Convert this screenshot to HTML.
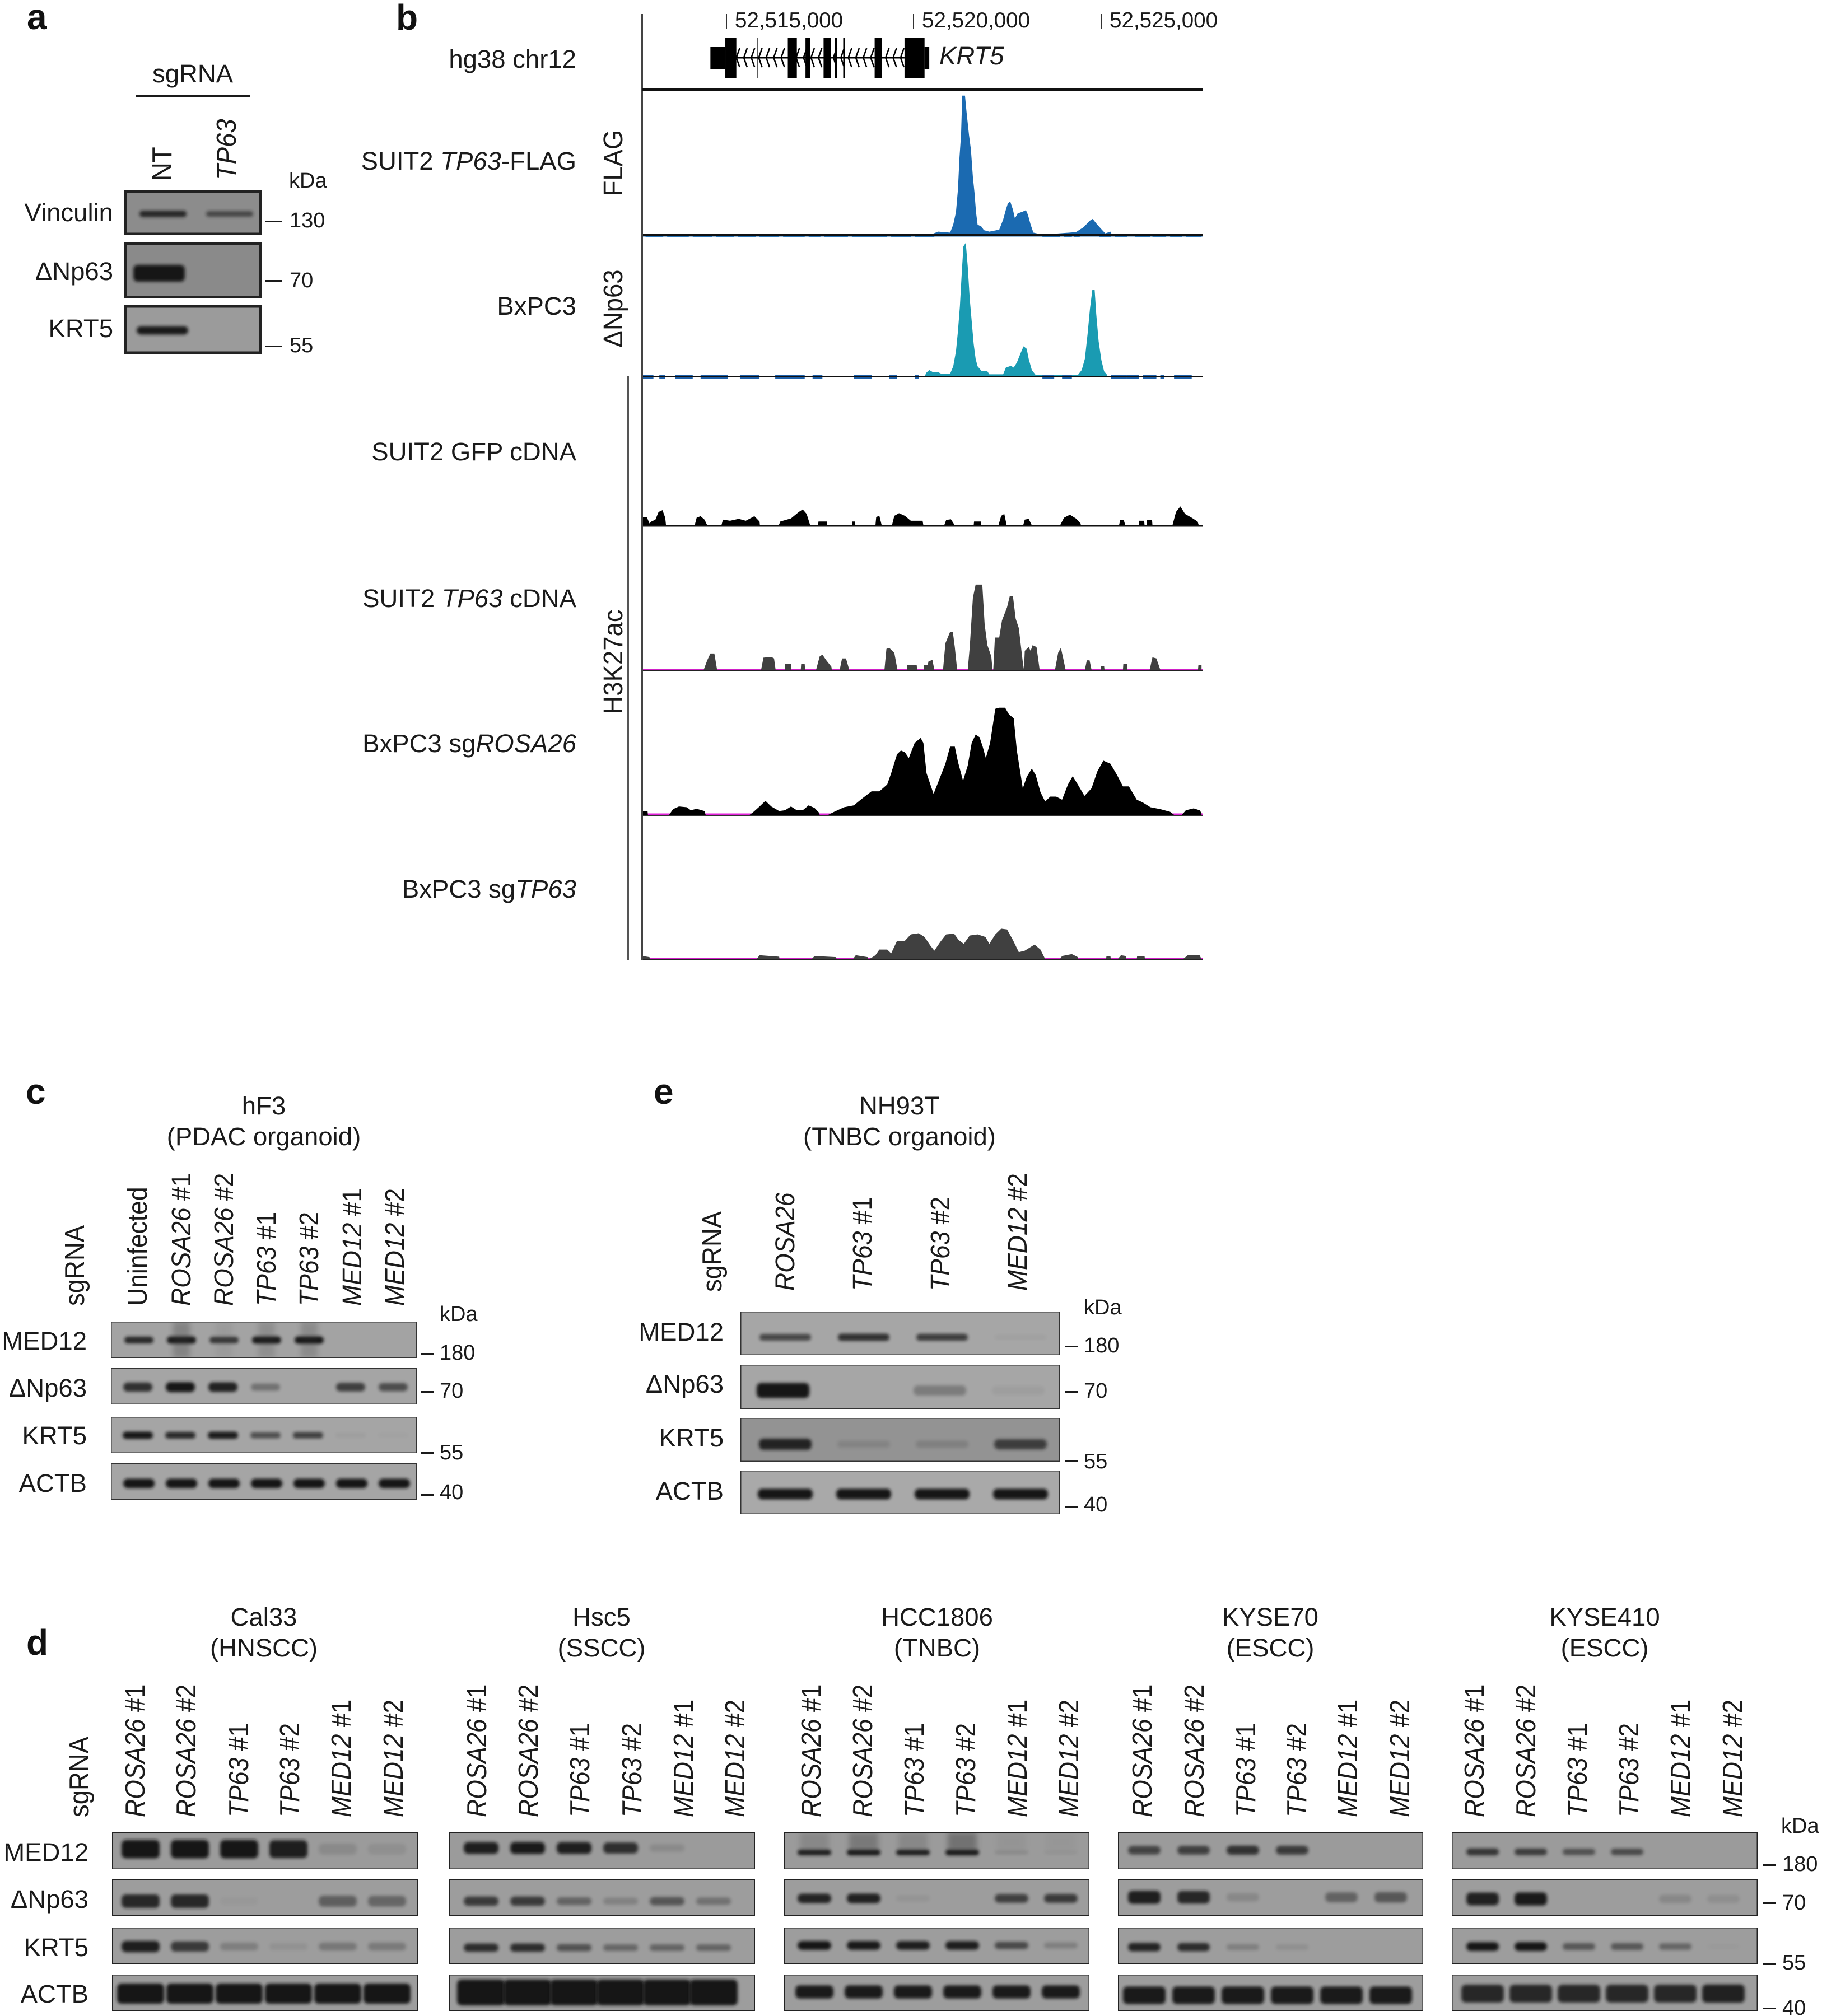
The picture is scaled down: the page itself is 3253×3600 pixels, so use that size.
<!DOCTYPE html>
<html lang="en">
<head>
<meta charset="utf-8">
<title>KRT5 ChIP-seq tracks and western blots</title>
<style>
html,body{margin:0;padding:0;background:#fff;}
svg#figure{display:block;}
text{font-family:"Liberation Sans",Arial,sans-serif;fill:#1a1a1a;}
.t{font-size:45.5px;}
.l{font-size:44.5px;}
.k{font-size:38px;}
.q{font-size:38.6px;}
.p{font-size:64px;font-weight:bold;fill:#111;}
.e{text-anchor:end;}
.m{text-anchor:middle;}
.i{font-style:italic;}
</style>
</head>
<body>
<svg id="figure" xmlns="http://www.w3.org/2000/svg" width="3253" height="3600" viewBox="0 0 3253 3600">
<defs>
<filter id="blur-band" x="-30%" y="-100%" width="160%" height="300%"><feGaussianBlur stdDeviation="3"/></filter>
<filter id="blur-smear" x="-30%" y="-30%" width="160%" height="160%"><feGaussianBlur stdDeviation="5"/></filter>
</defs>
<rect x="0" y="0" width="3253" height="3600" fill="#ffffff"/>
<g id="tracks"></g>
<g id="blots"></g>

<!-- panel letters -->
<text class="p" x="48" y="52">a</text>
<text class="p" x="707" y="53">b</text>
<text class="p" x="46" y="1971">c</text>
<text class="p" x="47" y="2955">d</text>
<text class="p" x="1167" y="1971">e</text>

<!-- panel a -->
<text class="t" x="272" y="147">sgRNA</text>
<rect x="242" y="170" width="205" height="3" fill="#1a1a1a"/>
<text class="t" transform="translate(306 323) rotate(-90) scale(1 1.08)">NT</text>
<text class="t i" transform="translate(421 321) rotate(-90) scale(1 1.08)">TP63</text>
<text class="k" x="516" y="335">kDa</text>
<text class="t e" x="202" y="395">Vinculin</text>
<text class="t e" x="202" y="500">ΔNp63</text>
<text class="t e" x="202" y="602">KRT5</text>
<rect x="473" y="394" width="31" height="3" fill="#1a1a1a"/>
<rect x="473" y="500" width="31" height="3" fill="#1a1a1a"/>
<rect x="473" y="617" width="31" height="3" fill="#1a1a1a"/>
<text class="k" x="517" y="406">130</text>
<text class="k" x="517" y="513">70</text>
<text class="k" x="517" y="629">55</text>

<!-- panel b labels -->
<text class="t e" x="1029" y="121">hg38 chr12</text>
<text class="t e" x="1029" y="303">SUIT2 <tspan class="i">TP63</tspan>-FLAG</text>
<text class="t e" x="1029" y="562">BxPC3</text>
<text class="t e" x="1029" y="822">SUIT2 GFP cDNA</text>
<text class="t e" x="1029" y="1084">SUIT2 <tspan class="i">TP63</tspan> cDNA</text>
<text class="t e" x="1029" y="1343">BxPC3 sg<tspan class="i">ROSA26</tspan></text>
<text class="t e" x="1029" y="1603">BxPC3 sg<tspan class="i">TP63</tspan></text>
<text class="t m" transform="translate(1111 291) rotate(-90) scale(1 1.06)">FLAG</text>
<text class="t m" transform="translate(1111 551) rotate(-90) scale(1 1.06)">ΔNp63</text>
<text class="t m" transform="translate(1111 1182) rotate(-90) scale(1 1.06)">H3K27ac</text>
<text class="q" x="1312" y="49">52,515,000</text>
<text class="q" x="1646" y="49">52,520,000</text>
<text class="q" x="1981" y="49">52,525,000</text>
<text class="t i" x="1677" y="115">KRT5</text>
<rect x="1296" y="25" width="2" height="26" fill="#333"/>
<rect x="1630" y="25" width="2" height="26" fill="#333"/>
<rect x="1965" y="25" width="2" height="26" fill="#333"/>
<rect x="1144" y="25" width="4" height="1690" fill="#444"/>
<rect x="1120" y="672" width="3" height="1043" fill="#555"/>
<rect x="1146" y="158" width="1001" height="4" fill="#111"/>

<!-- panel c labels -->
<text class="t m" x="471" y="1990">hF3</text>
<text class="t m" x="471" y="2045">(PDAC organoid)</text>
<text class="t" transform="translate(150 2332) rotate(-90) scale(1 1.08)">sgRNA</text>
<text class="l" transform="translate(262 2332) rotate(-90) scale(1 1.08)">Uninfected</text>
<text class="l" transform="translate(340 2332) rotate(-90) scale(1 1.08)"><tspan class="i">ROSA26</tspan> #1</text>
<text class="l" transform="translate(416 2332) rotate(-90) scale(1 1.08)"><tspan class="i">ROSA26</tspan> #2</text>
<text class="l" transform="translate(492 2332) rotate(-90) scale(1 1.08)"><tspan class="i">TP63</tspan> #1</text>
<text class="l" transform="translate(568 2332) rotate(-90) scale(1 1.08)"><tspan class="i">TP63</tspan> #2</text>
<text class="l" transform="translate(645 2332) rotate(-90) scale(1 1.08)"><tspan class="i">MED12</tspan> #1</text>
<text class="l" transform="translate(721 2332) rotate(-90) scale(1 1.08)"><tspan class="i">MED12</tspan> #2</text>
<text class="t e" x="155" y="2410">MED12</text>
<text class="t e" x="155" y="2494">ΔNp63</text>
<text class="t e" x="155" y="2579">KRT5</text>
<text class="t e" x="155" y="2664">ACTB</text>
<text class="k" x="785" y="2359">kDa</text>
<rect x="752" y="2416" width="23" height="3" fill="#1a1a1a"/>
<rect x="752" y="2484" width="23" height="3" fill="#1a1a1a"/>
<rect x="752" y="2593" width="23" height="3" fill="#1a1a1a"/>
<rect x="752" y="2668" width="23" height="3" fill="#1a1a1a"/>
<text class="k" x="785" y="2428">180</text>
<text class="k" x="785" y="2496">70</text>
<text class="k" x="785" y="2606">55</text>
<text class="k" x="785" y="2677">40</text>

<!-- panel e labels -->
<text class="t m" x="1606" y="1990">NH93T</text>
<text class="t m" x="1606" y="2045">(TNBC organoid)</text>
<text class="t" transform="translate(1288 2307) rotate(-90) scale(1 1.08)">sgRNA</text>
<text class="l i" transform="translate(1418 2305) rotate(-90) scale(1 1.08)">ROSA26</text>
<text class="l" transform="translate(1556 2305) rotate(-90) scale(1 1.08)"><tspan class="i">TP63</tspan> #1</text>
<text class="l" transform="translate(1695 2305) rotate(-90) scale(1 1.08)"><tspan class="i">TP63</tspan> #2</text>
<text class="l" transform="translate(1833 2305) rotate(-90) scale(1 1.08)"><tspan class="i">MED12</tspan> #2</text>
<text class="t e" x="1292" y="2394">MED12</text>
<text class="t e" x="1292" y="2487">ΔNp63</text>
<text class="t e" x="1292" y="2583">KRT5</text>
<text class="t e" x="1292" y="2678">ACTB</text>
<text class="k" x="1935" y="2347">kDa</text>
<rect x="1901" y="2403" width="24" height="3" fill="#1a1a1a"/>
<rect x="1901" y="2484" width="24" height="3" fill="#1a1a1a"/>
<rect x="1901" y="2608" width="24" height="3" fill="#1a1a1a"/>
<rect x="1901" y="2690" width="24" height="3" fill="#1a1a1a"/>
<text class="k" x="1935" y="2415">180</text>
<text class="k" x="1935" y="2496">70</text>
<text class="k" x="1935" y="2622">55</text>
<text class="k" x="1935" y="2699">40</text>

<!-- panel d labels -->
<text class="t m" x="471" y="2903">Cal33</text>
<text class="t m" x="471" y="2958">(HNSCC)</text>
<text class="t m" x="1074" y="2903">Hsc5</text>
<text class="t m" x="1074" y="2958">(SSCC)</text>
<text class="t m" x="1673" y="2903">HCC1806</text>
<text class="t m" x="1673" y="2958">(TNBC)</text>
<text class="t m" x="2268" y="2903">KYSE70</text>
<text class="t m" x="2268" y="2958">(ESCC)</text>
<text class="t m" x="2865" y="2903">KYSE410</text>
<text class="t m" x="2865" y="2958">(ESCC)</text>
<text class="t" transform="translate(158 3245) rotate(-90) scale(1 1.08)">sgRNA</text>

<text class="l" transform="translate(258 3245) rotate(-90) scale(1 1.1)"><tspan class="i">ROSA26</tspan> #1</text>
<text class="l" transform="translate(349 3245) rotate(-90) scale(1 1.1)"><tspan class="i">ROSA26</tspan> #2</text>
<text class="l" transform="translate(443 3245) rotate(-90) scale(1 1.1)"><tspan class="i">TP63</tspan> #1</text>
<text class="l" transform="translate(534 3245) rotate(-90) scale(1 1.1)"><tspan class="i">TP63</tspan> #2</text>
<text class="l" transform="translate(626 3245) rotate(-90) scale(1 1.1)"><tspan class="i">MED12</tspan> #1</text>
<text class="l" transform="translate(719 3245) rotate(-90) scale(1 1.1)"><tspan class="i">MED12</tspan> #2</text>

<text class="l" transform="translate(868 3245) rotate(-90) scale(1 1.1)"><tspan class="i">ROSA26</tspan> #1</text>
<text class="l" transform="translate(960 3245) rotate(-90) scale(1 1.1)"><tspan class="i">ROSA26</tspan> #2</text>
<text class="l" transform="translate(1052 3245) rotate(-90) scale(1 1.1)"><tspan class="i">TP63</tspan> #1</text>
<text class="l" transform="translate(1145 3245) rotate(-90) scale(1 1.1)"><tspan class="i">TP63</tspan> #2</text>
<text class="l" transform="translate(1237 3245) rotate(-90) scale(1 1.1)"><tspan class="i">MED12</tspan> #1</text>
<text class="l" transform="translate(1329 3245) rotate(-90) scale(1 1.1)"><tspan class="i">MED12</tspan> #2</text>

<text class="l" transform="translate(1465 3245) rotate(-90) scale(1 1.1)"><tspan class="i">ROSA26</tspan> #1</text>
<text class="l" transform="translate(1557 3245) rotate(-90) scale(1 1.1)"><tspan class="i">ROSA26</tspan> #2</text>
<text class="l" transform="translate(1649 3245) rotate(-90) scale(1 1.1)"><tspan class="i">TP63</tspan> #1</text>
<text class="l" transform="translate(1741 3245) rotate(-90) scale(1 1.1)"><tspan class="i">TP63</tspan> #2</text>
<text class="l" transform="translate(1833 3245) rotate(-90) scale(1 1.1)"><tspan class="i">MED12</tspan> #1</text>
<text class="l" transform="translate(1925 3245) rotate(-90) scale(1 1.1)"><tspan class="i">MED12</tspan> #2</text>

<text class="l" transform="translate(2056 3245) rotate(-90) scale(1 1.1)"><tspan class="i">ROSA26</tspan> #1</text>
<text class="l" transform="translate(2149 3245) rotate(-90) scale(1 1.1)"><tspan class="i">ROSA26</tspan> #2</text>
<text class="l" transform="translate(2241 3245) rotate(-90) scale(1 1.1)"><tspan class="i">TP63</tspan> #1</text>
<text class="l" transform="translate(2332 3245) rotate(-90) scale(1 1.1)"><tspan class="i">TP63</tspan> #2</text>
<text class="l" transform="translate(2423 3245) rotate(-90) scale(1 1.1)"><tspan class="i">MED12</tspan> #1</text>
<text class="l" transform="translate(2516 3245) rotate(-90) scale(1 1.1)"><tspan class="i">MED12</tspan> #2</text>

<text class="l" transform="translate(2649 3245) rotate(-90) scale(1 1.1)"><tspan class="i">ROSA26</tspan> #1</text>
<text class="l" transform="translate(2741 3245) rotate(-90) scale(1 1.1)"><tspan class="i">ROSA26</tspan> #2</text>
<text class="l" transform="translate(2833 3245) rotate(-90) scale(1 1.1)"><tspan class="i">TP63</tspan> #1</text>
<text class="l" transform="translate(2925 3245) rotate(-90) scale(1 1.1)"><tspan class="i">TP63</tspan> #2</text>
<text class="l" transform="translate(3017 3245) rotate(-90) scale(1 1.1)"><tspan class="i">MED12</tspan> #1</text>
<text class="l" transform="translate(3110 3245) rotate(-90) scale(1 1.1)"><tspan class="i">MED12</tspan> #2</text>

<text class="t e" x="158" y="3323">MED12</text>
<text class="t e" x="158" y="3407">ΔNp63</text>
<text class="t e" x="158" y="3493">KRT5</text>
<text class="t e" x="158" y="3576">ACTB</text>
<text class="k" x="3180" y="3273">kDa</text>
<rect x="3147" y="3329" width="23" height="3" fill="#1a1a1a"/>
<rect x="3147" y="3397" width="23" height="3" fill="#1a1a1a"/>
<rect x="3147" y="3506" width="23" height="3" fill="#1a1a1a"/>
<rect x="3147" y="3585" width="23" height="3" fill="#1a1a1a"/>
<text class="k" x="3182" y="3341">180</text>
<text class="k" x="3182" y="3410">70</text>
<text class="k" x="3182" y="3517">55</text>
<text class="k" x="3182" y="3598">40</text>
</svg>

<script>
// ---- genome tracks: bin index (about 10.5 bp each) and signal per bin ----
const exonStartBins = [278,437,482,528,556,578,658,734];
const exonEndBins   = [306,460,494,546,562,582,677,785];
const thinExonBins  = [358];
const utrStartBins  = [240,785];
const utrEndBins    = [278,797];

const flagBins = [800,820,850,858,865,870,874,878,881,888,892,898,903,908,912,916,920,930,936,950,975,985,992,997,1003,1010,1015,1022,1035,1043,1048,1055,1062,1085,1170,1190,1205,1213,1222,1235,1245,1258,1262];
const flagSignal = [0,12,8,40,90,180,310,400,556,556,490,400,340,230,170,90,40,32,18,12,20,60,100,125,133,100,65,85,92,98,80,40,8,0,10,30,55,63,45,22,5,12,0];
const flagNoiseStart = [75,130,195,255,310,365,425,490,530,600,700,760,1085,1140,1165,1230,1270,1320,1365,1410,1450];
const flagNoiseEnd = [120,185,245,300,355,415,480,520,590,690,750,810,1130,1160,1180,1260,1300,1360,1400,1440,1490];

const dnp63Bins = [785,790,797,805,818,828,850,858,865,870,875,880,884,890,895,900,905,910,915,920,930,945,950,985,992,1005,1012,1020,1030,1037,1045,1050,1058,1068,1175,1185,1193,1200,1206,1212,1218,1222,1228,1235,1242,1250];
const dnp63Signal = [0,15,25,18,18,10,10,40,100,180,280,420,520,534,440,310,220,130,70,40,22,20,8,8,35,42,35,55,95,120,110,70,25,5,5,25,70,170,270,345,345,250,140,65,20,5];
const dnp63NoiseStart = [65,110,150,215,315,405,450,500,605,695,760,1085,1135,1260,1300,1340,1385,1420];
const dnp63NoiseEnd = [95,125,195,285,365,470,480,525,650,715,770,1115,1160,1300,1330,1375,1395,1465];

const gfpBins = [66,67,78,85,90,100,108,118,125,127,200,205,215,225,232,268,272,290,312,330,352,365,366,414,418,445,465,475,485,494,514,515,536,537,600,601,608,609,660,662,670,676,702,708,720,735,750,780,782,835,840,852,862,910,911,928,929,973,980,988,994,1036,1040,1050,1058,1130,1140,1155,1170,1182,1183,1280,1283,1292,1296,1330,1331,1344,1345,1350,1351,1364,1365,1416,1425,1436,1448,1465,1480,1483];
const gfpSignal = [0,22,22,5,10,15,35,40,20,0,0,20,24,15,0,0,15,12,17,12,24,10,0,0,10,18,35,42,30,0,0,10,10,0,0,10,10,0,0,22,25,0,0,25,32,25,12,12,0,0,14,16,0,0,10,10,0,0,25,30,0,0,15,17,0,0,20,28,18,5,0,0,14,14,0,0,12,12,0,0,14,14,0,0,35,50,30,20,10,0];

const cdnaBins = [223,232,240,250,257,369,375,395,402,406,429,430,445,446,470,471,480,481,509,518,525,535,548,549,569,575,585,592,593,683,688,695,708,716,740,741,765,766,783,784,793,795,805,810,832,838,850,857,862,868,895,900,908,915,932,938,945,955,958,960,964,975,982,995,1002,1010,1017,1025,1035,1038,1040,1050,1055,1060,1070,1078,1117,1125,1132,1138,1144,1193,1198,1205,1210,1233,1234,1242,1243,1290,1291,1300,1301,1358,1365,1375,1385,1481,1482,1490];
const cdnaSignal = [0,25,43,43,0,0,32,34,30,0,0,15,15,0,0,15,15,0,0,35,40,25,8,0,0,30,30,5,0,0,55,58,45,0,0,12,12,0,0,12,12,22,26,0,0,70,100,100,60,0,0,60,190,225,225,120,65,35,0,0,85,85,130,165,195,195,135,110,20,0,50,60,50,65,60,0,0,45,58,30,0,0,25,25,0,0,10,10,0,0,15,15,0,0,33,30,0,0,12,12];

const rosaBins = [66,67,80,81,135,145,160,180,190,205,225,228,340,350,365,380,395,415,430,445,460,475,490,505,517,518,540,555,580,605,625,650,670,690,700,715,725,735,745,760,775,782,790,808,825,838,850,862,870,883,895,905,915,925,933,941,952,965,975,990,1000,1012,1020,1035,1045,1058,1068,1080,1092,1105,1120,1135,1150,1162,1175,1192,1210,1225,1240,1258,1275,1290,1305,1325,1340,1360,1385,1410,1420,1440,1450,1470,1485,1490];
const rosaSignal = [0,10,10,0,0,15,22,20,12,16,10,0,0,8,22,37,22,10,12,22,12,12,25,18,5,0,0,8,20,25,42,62,62,80,110,160,170,165,150,190,203,190,110,55,100,135,180,180,140,90,130,190,212,205,180,150,190,280,283,283,265,255,170,70,100,122,105,60,35,48,48,40,80,102,80,50,70,115,143,135,105,75,75,40,33,20,15,8,0,0,12,17,12,5];

const sgTp63Bins = [66,67,85,86,358,365,415,416,498,505,560,561,603,610,640,641,645,660,670,690,700,715,735,750,770,785,800,810,825,840,860,872,885,900,920,940,950,965,980,995,1010,1025,1040,1065,1080,1092,1130,1135,1160,1175,1176,1247,1248,1258,1259,1277,1285,1297,1298,1325,1326,1345,1346,1443,1455,1485,1490];
const sgTp63Signal = [0,8,5,0,0,10,6,0,0,8,5,0,0,10,5,0,0,10,25,25,15,48,48,65,68,58,35,22,45,65,67,50,40,62,65,58,40,65,80,78,50,18,22,38,25,0,0,8,13,5,0,0,8,8,0,0,10,8,0,0,7,7,0,0,10,10,0];

// ---- western blots: relative band intensity per lane (0 to 1) ----
const aVinculin = [0.85,0.6];
const aDnp63 = [1,0];
const aKrt5 = [0.95,0];

const cMed12 = [0.85,0.95,0.75,0.95,1,0,0];
const cMed12Smear = [0,0.4,0.1,0.25,0.3,0,0];
const cDnp63 = [0.8,1,0.9,0.35,0,0.7,0.6];
const cKrt5 = [1,0.85,0.95,0.6,0.7,0.05,0.02];
const cActb = [1,1,1,1,1,1,1];

const eMed12 = [0.65,0.8,0.72,0.04];
const eDnp63 = [1,0,0.28,0.05];
const eKrt5 = [0.88,0.12,0.15,0.68];
const eActb = [1,1,1,1];

const cal33Med12 = [0.98,0.98,0.98,0.92,0.12,0.08];
const cal33Dnp63 = [0.85,0.85,0.03,0,0.45,0.4];
const cal33Krt5 = [0.92,0.72,0.22,0.08,0.27,0.25];
const cal33Actb = [1,1,1,1,1,1];

const hsc5Med12 = [0.92,0.95,0.92,0.8,0.12,0];
const hsc5Dnp63 = [0.72,0.72,0.42,0.2,0.52,0.32];
const hsc5Krt5 = [0.82,0.82,0.55,0.4,0.42,0.42];
const hsc5Actb = [1,1,1,1,1,1];

const hccMed12 = [0.95,1,0.95,1,0.12,0.05];
const hccMed12Smear = [0.25,0.45,0.25,0.55,0.08,0.05];
const hccDnp63 = [0.88,0.9,0.06,0,0.68,0.72];
const hccKrt5 = [1,0.95,0.92,0.92,0.6,0.22];
const hccActb = [0.95,0.95,0.95,0.95,0.95,0.95];

const kyse70Med12 = [0.65,0.68,0.78,0.72,0,0];
const kyse70Dnp63 = [0.92,0.85,0.15,0,0.42,0.5];
const kyse70Krt5 = [0.88,0.82,0.22,0.1,0,0];
const kyse70Actb = [0.95,0.95,0.95,0.95,0.95,0.95];

const kyse410Med12 = [0.75,0.7,0.55,0.6,0,0];
const kyse410Dnp63 = [0.9,0.95,0,0,0.15,0.1];
const kyse410Krt5 = [0.98,1,0.5,0.5,0.4,0.02];
const kyse410Actb = [0.85,0.85,0.85,0.85,0.85,0.9];

// ---- scales ----
const SVGNS = 'http://www.w3.org/2000/svg';
const tracksLayer = document.getElementById('tracks');
const blotsLayer = document.getElementById('blots');
function binX(bin){ return 1100 + bin / 1.4255; }
function signalY(value, baseline, gain){ return baseline - value * gain; }

function drawTrack(name, bins, signal, baseline, gain, color){
  const pts = [[binX(bins[0]), baseline]];
  bins.forEach(function(b, i){ pts.push([binX(b), signalY(signal[i], baseline, gain)]); });
  pts.push([binX(bins[bins.length - 1]), baseline]);
  const poly = document.createElementNS(SVGNS, 'polygon');
  poly.setAttribute('points', pts.map(function(p){ return p[0].toFixed(1) + ',' + p[1].toFixed(1); }).join(' '));
  poly.setAttribute('fill', color);
  
  
  tracksLayer.appendChild(poly);
}
function drawBaseline(name, baseline, thick, color){
  const r = document.createElementNS(SVGNS, 'rect');
  r.setAttribute('x', 1146);
  r.setAttribute('y', baseline);
  r.setAttribute('width', 1001);
  r.setAttribute('height', thick);
  r.setAttribute('fill', color);
  
  
  tracksLayer.appendChild(r);
}
function drawNoise(name, starts, ends, baseline, color){
  starts.forEach(function(s, i){
    const r = document.createElementNS(SVGNS, 'rect');
    r.setAttribute('x', binX(s));
    r.setAttribute('y', baseline - 2);
    r.setAttribute('width', binX(ends[i]) - binX(s));
    r.setAttribute('height', 6);
    r.setAttribute('fill', color);
    
    
    tracksLayer.appendChild(r);
  });
}
function drawGene(){
  const mid = 103;
  const line = document.createElementNS(SVGNS, 'rect');
  line.setAttribute('x', binX(306));
  line.setAttribute('y', mid - 1.5);
  line.setAttribute('width', binX(734) - binX(306));
  line.setAttribute('height', 3);
  line.setAttribute('fill', '#000');
  
  
  tracksLayer.appendChild(line);
  for (let b = 306; b < 734; b += 19) {
    const chev = document.createElementNS(SVGNS, 'polyline');
    const x = binX(b);
    chev.setAttribute('points', (x + 6) + ',' + (mid - 17) + ' ' + x + ',' + mid + ' ' + (x + 6) + ',' + (mid + 17));
    chev.setAttribute('fill', 'none');
    chev.setAttribute('stroke', '#000');
    chev.setAttribute('stroke-width', 2.6);
    
    
    tracksLayer.appendChild(chev);
  }
  exonStartBins.forEach(function(s, i){
    const r = document.createElementNS(SVGNS, 'rect');
    r.setAttribute('x', binX(s));
    r.setAttribute('y', 67);
    r.setAttribute('width', binX(exonEndBins[i]) - binX(s));
    r.setAttribute('height', 73);
    r.setAttribute('fill', '#000');
    
    
    tracksLayer.appendChild(r);
  });
  thinExonBins.forEach(function(s){
    const r = document.createElementNS(SVGNS, 'rect');
    r.setAttribute('x', binX(s));
    r.setAttribute('y', 67);
    r.setAttribute('width', 1.5);
    r.setAttribute('height', 73);
    r.setAttribute('fill', '#000');
    
    
    tracksLayer.appendChild(r);
  });
  utrStartBins.forEach(function(s, i){
    const r = document.createElementNS(SVGNS, 'rect');
    r.setAttribute('x', binX(s));
    r.setAttribute('y', 84);
    r.setAttribute('width', binX(utrEndBins[i]) - binX(s));
    r.setAttribute('height', 39);
    r.setAttribute('fill', '#000');
    
    
    tracksLayer.appendChild(r);
  });
}

drawGene();
drawBaseline('flag-noise-floor', 419, 3.5, '#2a76b8');
drawTrack('flag-chip-signal', flagBins, flagSignal, 419, 1 / 2.24, '#1b6ab1');
drawNoise('flag-baseline-noise', flagNoiseStart, flagNoiseEnd, 419, '#2a76b8');
drawBaseline('flag-baseline', 418, 3, '#111');
drawTrack('dnp63-chip-signal', dnp63Bins, dnp63Signal, 672, 1 / 2.24, '#1a9bb2');
drawNoise('dnp63-baseline-noise', dnp63NoiseStart, dnp63NoiseEnd, 672, '#1d5fa8');
drawBaseline('dnp63-baseline', 671, 3, '#111');

const H3_GAIN = 1 / 1.479;
drawBaseline('gfp-zero-line', 937, 1, '#d020c8');
drawBaseline('gfp-baseline', 938, 2.5, '#111');
drawTrack('gfp-h3k27ac-signal', gfpBins, gfpSignal, 938, H3_GAIN, '#000');
drawBaseline('tp63-cdna-zero-line', 1194.5, 1.5, '#d020c8');
drawBaseline('tp63-cdna-baseline', 1196, 2, '#222');
drawTrack('tp63-cdna-h3k27ac-signal', cdnaBins, cdnaSignal, 1196, H3_GAIN, '#404040');
drawBaseline('rosa26-zero-line', 1452.5, 2.5, '#e020d8');
drawBaseline('rosa26-baseline', 1455, 2, '#333');
drawTrack('sgrosa26-h3k27ac-signal', rosaBins, rosaSignal, 1455, H3_GAIN, '#000');
drawBaseline('sgtp63-zero-line', 1710.5, 2, '#d020c8');
drawBaseline('sgtp63-baseline', 1712.5, 2, '#222');
drawTrack('sgtp63-h3k27ac-signal', sgTp63Bins, sgTp63Signal, 1712.5, H3_GAIN, '#404040');

// ---- blot drawing: lane index -> x, value -> darkness and thickness ----
function laneX(first, step, index){ return first + step * index; }
function bandOpacity(v){ return Math.min(1, v * 1.02); }
function bandHeight(v, thick){ return thick * (0.55 + 0.45 * v); }

function drawBlotFrame(name, x, y, w, h, fill, border, bw){
  const frame = document.createElementNS(SVGNS, 'svg');
  frame.setAttribute('x', x);
  frame.setAttribute('y', y);
  frame.setAttribute('width', w);
  frame.setAttribute('height', h);
  frame.setAttribute('viewBox', x + ' ' + y + ' ' + w + ' ' + h);
  
  
  const bg = document.createElementNS(SVGNS, 'rect');
  bg.setAttribute('x', x);
  bg.setAttribute('y', y);
  bg.setAttribute('width', w);
  bg.setAttribute('height', h);
  bg.setAttribute('fill', fill);
  
  
  frame.appendChild(bg);
  blotsLayer.appendChild(frame);
  const edge = document.createElementNS(SVGNS, 'rect');
  edge.setAttribute('x', x + bw / 2);
  edge.setAttribute('y', y + bw / 2);
  edge.setAttribute('width', w - bw);
  edge.setAttribute('height', h - bw);
  edge.setAttribute('fill', 'none');
  edge.setAttribute('stroke', border);
  edge.setAttribute('stroke-width', bw);
  
  
  blotsLayer.appendChild(edge);
  return frame;
}
function drawBands(frame, name, values, first, step, cy, width, thick){
  values.forEach(function(v, i){
    if (v <= 0) return;
    const h = bandHeight(v, thick);
    const band = document.createElementNS(SVGNS, 'rect');
    band.setAttribute('x', laneX(first, step, i) - width / 2);
    band.setAttribute('y', cy - h / 2);
    band.setAttribute('width', width);
    band.setAttribute('height', h);
    band.setAttribute('rx', Math.min(h / 2, 8));
    band.setAttribute('fill', '#141414');
    band.setAttribute('opacity', bandOpacity(v));
    band.setAttribute('filter', 'url(#blur-band)');
    
    
    frame.appendChild(band);
  });
}
function drawSmears(frame, name, values, first, step, top, height, width){
  values.forEach(function(v, i){
    if (v <= 0) return;
    const s = document.createElementNS(SVGNS, 'rect');
    s.setAttribute('x', laneX(first, step, i) - width / 2);
    s.setAttribute('y', top);
    s.setAttribute('width', width);
    s.setAttribute('height', height);
    s.setAttribute('fill', '#333');
    s.setAttribute('opacity', v * 0.7);
    s.setAttribute('filter', 'url(#blur-smear)');
    
    
    frame.appendChild(s);
  });
}
function blotRow(name, x, y, w, h, fill, border, bw, values, first, step, cy, width, thick){
  const frame = drawBlotFrame(name, x, y, w, h, fill, border, bw);
  drawBands(frame, name, values, first, step, cy, width, thick);
  return frame;
}

// panel a
blotRow('a-blot-vinculin', 222, 340, 245, 80, '#8c8c8c', '#222', 4.5, aVinculin, 291, 119, 382, 84, 12);
blotRow('a-blot-dnp63', 222, 433, 245, 100, '#8a8a8a', '#222', 4.5, aDnp63, 284, 119, 488, 92, 30);
blotRow('a-blot-krt5', 222, 545, 245, 87, '#9b9b9b', '#222', 4.5, aKrt5, 290, 119, 590, 92, 15);

// panel c
const cFrame = blotRow('c-blot-med12', 198, 2360, 546, 65, '#a3a3a3', '#333', 1.5, cMed12, 248, 76, 2393, 52, 13);
drawSmears(cFrame, 'c-blot-med12', cMed12Smear, 248, 76, 2360, 65, 30);
blotRow('c-blot-dnp63', 198, 2443, 546, 65, '#a5a5a5', '#333', 1.5, cDnp63, 246, 76, 2477, 52, 18);
blotRow('c-blot-krt5', 198, 2530, 546, 65, '#a5a5a5', '#333', 1.5, cKrt5, 246, 76, 2563, 54, 13);
blotRow('c-blot-actb', 198, 2613, 546, 65, '#a5a5a5', '#333', 1.5, cActb, 248, 76, 2649, 56, 17);

// panel e
blotRow('e-blot-med12', 1322, 2342, 570, 78, '#a6a6a6', '#333', 1.5, eMed12, 1402, 140, 2388, 92, 14);
blotRow('e-blot-dnp63', 1322, 2437, 570, 79, '#a6a6a6', '#333', 1.5, eDnp63, 1398, 140, 2483, 94, 27);
blotRow('e-blot-krt5', 1322, 2532, 570, 78, '#939393', '#333', 1.5, eKrt5, 1402, 140, 2579, 94, 21);
blotRow('e-blot-actb', 1322, 2626, 570, 78, '#a9a9a9', '#333', 1.5, eActb, 1402, 140, 2668, 98, 19);

// panel d
function dPanel(name, x, w, first, step, rowCy, rowThick, widths, actbWidth, med12, dnp63, krt5, actb){
  const f = blotRow(name + '-blot-med12', x, 3272, w, 66, '#9b9b9b', '#222', 1.5, med12, first, step, rowCy[0], widths, rowThick[0]);
  blotRow(name + '-blot-dnp63', x, 3356, w, 65, '#9d9d9d', '#222', 1.5, dnp63, first, step, rowCy[1], widths, rowThick[1]);
  blotRow(name + '-blot-krt5', x, 3442, w, 65, '#9d9d9d', '#222', 1.5, krt5, first, step, rowCy[2], widths, rowThick[2]);
  blotRow(name + '-blot-actb', x, 3526, w, 65, '#9d9d9d', '#222', 1.5, actb, first, step, rowCy[3], actbWidth, rowThick[3]);
  return f;
}
dPanel('d-cal33', 200, 546, 251, 88, [3302,3395,3476,3560], [33,26,21,36], 68, 84, cal33Med12, cal33Dnp63, cal33Krt5, cal33Actb);
dPanel('d-hsc5', 802, 546, 859, 83, [3300,3395,3478,3558], [22,19,16,46], 62, 86, hsc5Med12, hsc5Dnp63, hsc5Krt5, hsc5Actb);
const hccFrame = dPanel('d-hcc1806', 1400, 545, 1454, 88, [3308,3390,3474,3557], [10,18,16,24], 60, 68, hccMed12, hccDnp63, hccKrt5, hccActb);
drawSmears(hccFrame, 'd-hcc1806-blot-med12', hccMed12Smear, 1454, 88, 3272, 34, 52);
dPanel('d-kyse70', 1996, 545, 2043, 88, [3304,3388,3477,3563], [18,24,16,32], 58, 76, kyse70Med12, kyse70Dnp63, kyse70Krt5, kyse70Actb);
dPanel('d-kyse410', 2592, 546, 2647, 86, [3307,3391,3476,3560], [14,24,16,34], 58, 76, kyse410Med12, kyse410Dnp63, kyse410Krt5, kyse410Actb);
</script>
</body>
</html>
